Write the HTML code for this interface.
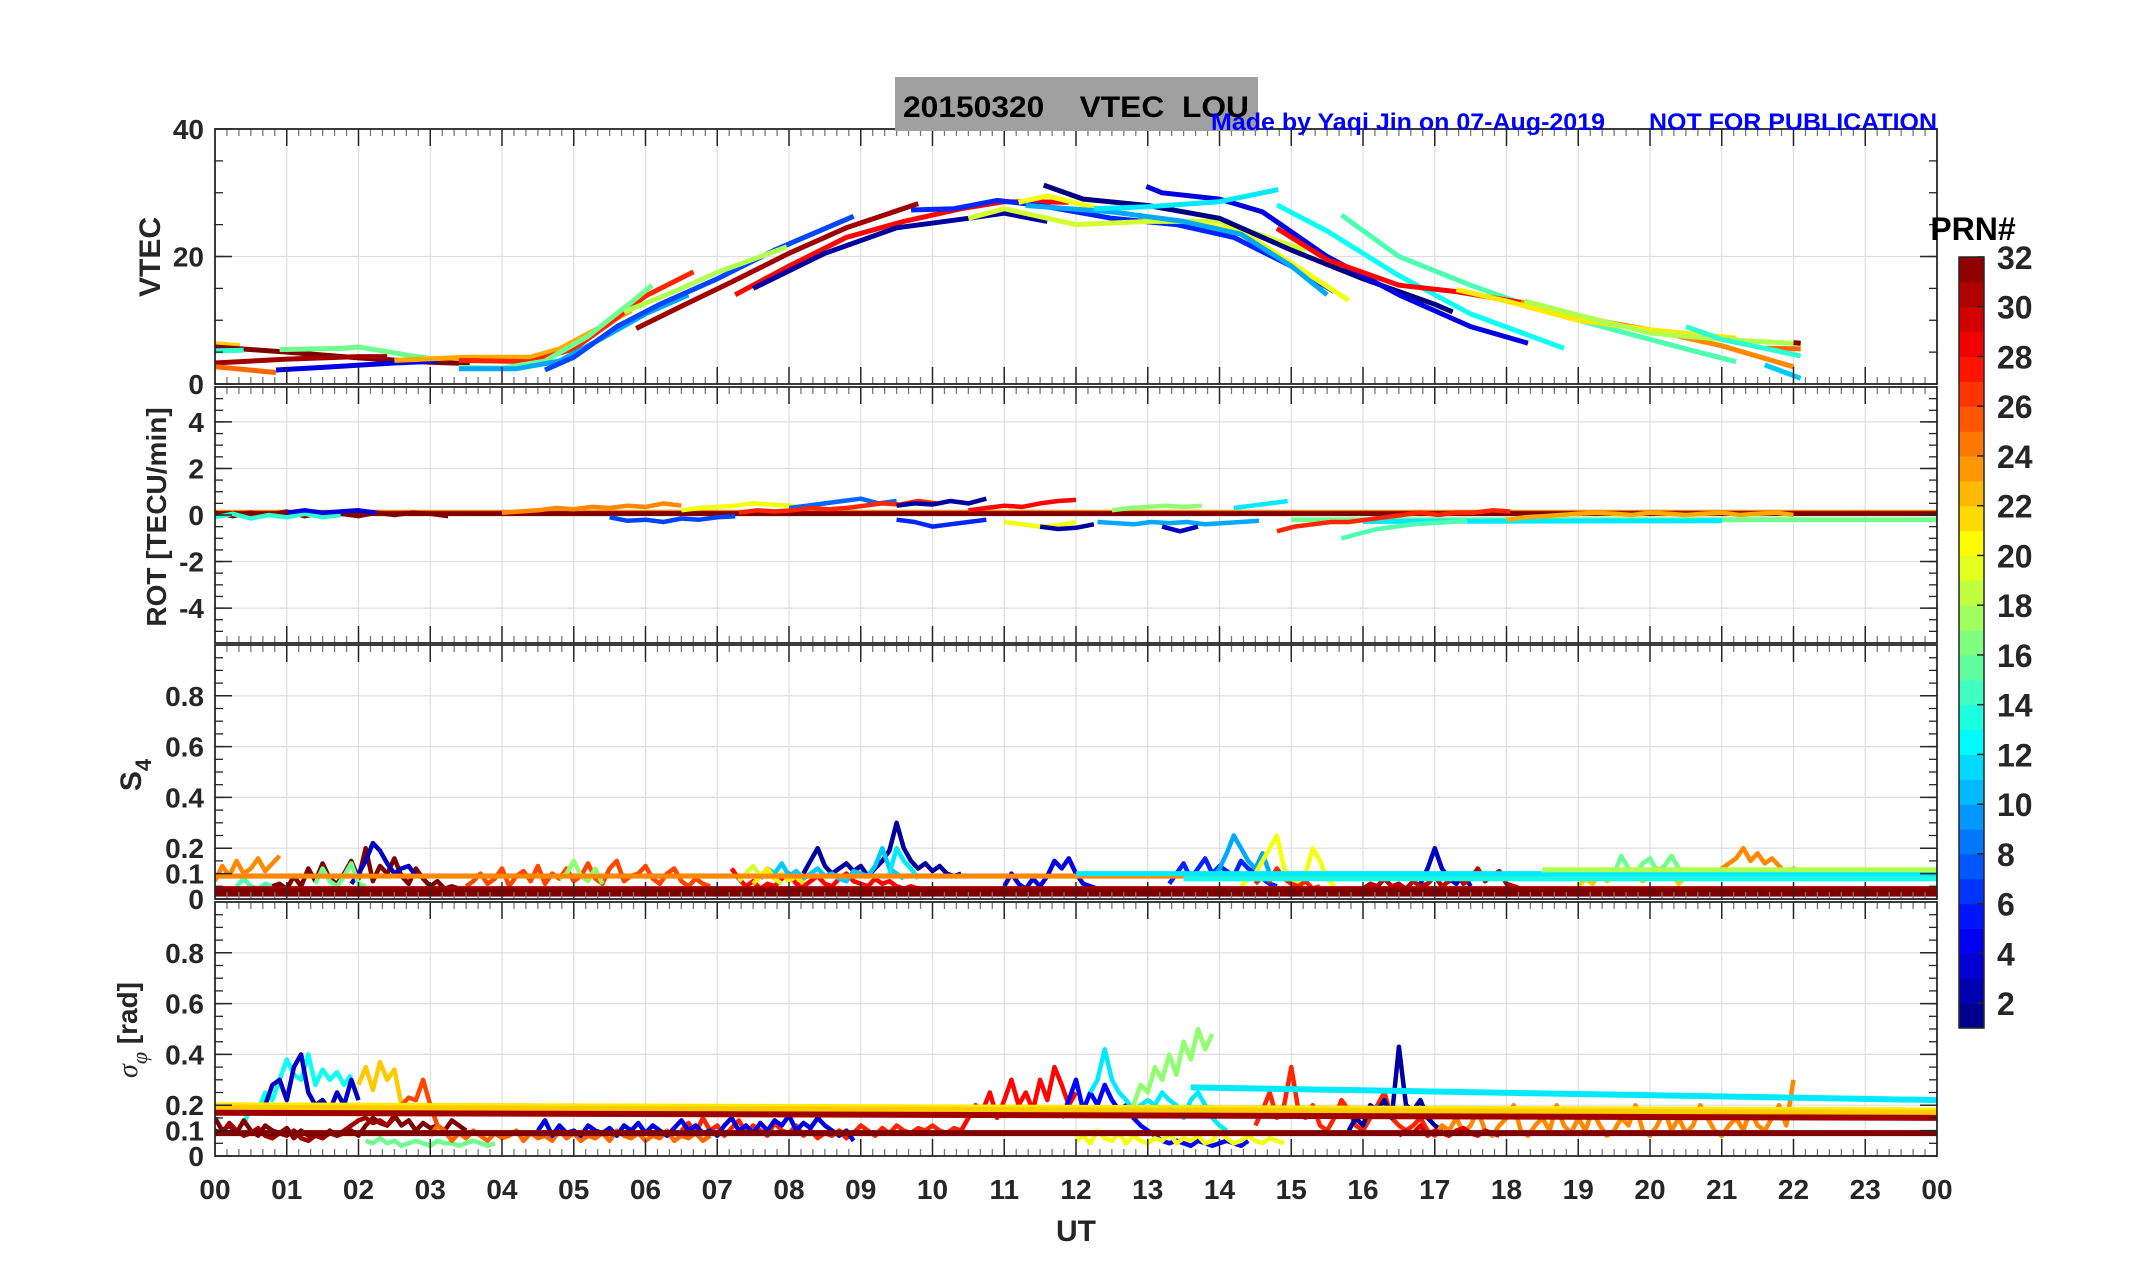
<!DOCTYPE html>
<html><head><meta charset="utf-8"><style>
html,body{margin:0;padding:0;background:#fff;}
svg{display:block;font-family:"Liberation Sans",Arial,sans-serif;}
</style></head><body>
<svg id="fig" width="2153" height="1286" viewBox="0 0 2153 1286">
<rect x="0" y="0" width="2153" height="1286" fill="#fff"/>
</svg>
<script>
// ===== data =====
const hourTicks = ["00","01","02","03","04","05","06","07","08","09","10","11","12","13","14","15","16","17","18","19","20","21","22","23","00"];
const cbTicks = [2,4,6,8,10,12,14,16,18,20,22,24,26,28,30,32];
const vtecTicks = [0,20,40];
const rotTicks = [-4,-2,0,2,4];
const scintTicks = [0,0.1,0.2,0.4,0.6,0.8];

// VTEC arcs
const arcPRN = [22,32,31,25,14,16,4,23,27,16,10,7,18,31,28,2,6,19,20,10,1,4,12,13,15,28,24,21,18,11,32,25,14];
const arcHours = [
 [0,0.35],[0,1,2,3,3.55],[0,1,2,2.4],[0,0.85],[0,0.4],[0.9,1.8,2.0,2.7,3.0],[0.85,1.5,2.5,3.1],
 [2.5,3.5,4.4,4.8,5.3,5.8],[3.4,4.4,5.0,5.5,6.0,6.67],[3.4,4.0,4.6,5.2,5.8,6.09],[3.4,4.2,4.8,5.4,6.0,6.6],
 [4.6,5.0,5.6,6.2,7.0,7.8,8.9],[5.7,6.4,7.0,7.97],[5.87,6.5,7.2,8.0,8.8,9.8],[7.25,8.0,8.8,9.6,10.4,11.0,11.9],
 [7.5,8.5,9.5,10.5,11.0,11.6],[9.7,10.3,10.9,11.5,12.5,13.4,14.2,15.0,15.6],[10.5,11.0,12,13,14,15.2],
 [11.2,11.6,12.5,13.5,14.3,15.0,15.8],[11.3,12.5,13.5,14.3,15.0,15.5],[11.55,12.1,13,14,15,16,17,17.25],
 [12.98,13.2,14,14.6,15.5,16.5,17.5,18.3],[12.25,13,14,14.82],[14.8,15.5,16.5,17.5,18.8],
 [15.7,16.5,17.5,18.5,19.5,20.5,21.2],[14.8,15.5,16.5,17.3,18.25],[18.2,19.0,20.0,21.0,22.0],
 [17.3,18.0,19,20,21.2],[18.25,19,20,21,22.1],[21.6,22.1],[22.0,22.1],[21.6,22.1],[20.5,21.0,22.1]
];
const arcTEC = [
 [6.3,6.0],[5.8,5.0,4.1,3.4,3.2],[3.3,3.9,4.3,4.3],[2.7,1.8],[5.2,5.3],[5.4,5.6,5.8,4.5,4.0],[2.2,2.6,3.3,3.6],
 [3.7,4.2,4.2,5.5,8.5,11.5],[3.7,3.5,5.5,9.5,13.8,17.6],[2.6,2.5,3.6,7.5,12.8,15.5],[2.4,2.4,3.6,7.2,11,14],
 [2.2,4.2,9,12.5,16.5,21,26.3],[11.3,14.5,17.5,21.5],[8.7,12.2,16,20.5,24.5,28.3],[14,18.5,23,25.5,27.5,28.6,28.5],
 [15,20.5,24.5,26,26.8,25.5],[27.3,27.5,28.8,28,26,25,23,18.5,14.5],[26,27.5,25,25.5,25.5,21],
 [28.5,29.5,27,25.5,24,19,13.1],[28,27,25.5,23.5,18.5,14],[31.2,29,28,26,21,16.5,12.5,11.3],
 [31,30,29,27,20,14,9,6.4],[27.5,27.8,28.6,30.5],[28.1,24,17,11,5.6],
 [26.5,20,15.5,11.5,8.5,5.5,3.5],[24.4,19.5,15.5,14.5,12.7],[12.9,10.5,8.5,6,2.7],
 [14.8,13,10,8.5,7.2],[13,10.8,8,7,6.3],[3,0.9],[6.5,6.4],[5.6,5.5],[9,7,4.4]
];

// ROT (step 0.25 h)
const rotPRN = [32,14,4,24,7,20,8,27,2,6,28,20,2,10,17,3,12,27,15,23];
const rotStart = [0,0,1,4,5.5,6.5,8,7.3,9.5,9.5,10.5,11,11.5,12.3,12.5,13.2,14.2,14.8,15.7,18];
const rotVals = [
 [0.1,-0.05,0.1,0.0,0.15,-0.05,0.1,0.05,-0.05,0.1,0.0,0.1,0.05,-0.05],
 [-0.1,0.05,-0.15,0.0,-0.1,0.05,-0.1,0.0],
 [0.1,0.2,0.1,0.15,0.2,0.1],
 [0.1,0.15,0.2,0.3,0.25,0.35,0.3,0.4,0.35,0.5,0.4],
 [-0.1,-0.25,-0.2,-0.3,-0.15,-0.2,-0.1,-0.05],
 [0.2,0.3,0.35,0.4,0.5,0.45,0.4,0.3],
 [0.3,0.4,0.5,0.6,0.7,0.5,0.6],
 [0.1,0.2,0.15,0.2,0.3,0.25,0.3,0.4,0.5,0.45,0.6,0.5],
 [0.4,0.5,0.45,0.6,0.5,0.7],
 [-0.2,-0.3,-0.5,-0.4,-0.3,-0.2],
 [0.2,0.3,0.4,0.35,0.5,0.6,0.65],
 [-0.3,-0.4,-0.5,-0.45,-0.3],
 [-0.5,-0.6,-0.55,-0.4],
 [-0.3,-0.35,-0.4,-0.3,-0.35,-0.3,-0.4,-0.35,-0.3,-0.25],
 [0.2,0.3,0.35,0.4,0.35,0.4],
 [-0.5,-0.7,-0.5],
 [0.3,0.4,0.5,0.6],
 [-0.7,-0.5,-0.4,-0.3,-0.3,-0.2,-0.1,0.0,0.1,0.0,0.1,0.1,0.2,0.15],
 [-1.0,-0.8,-0.6,-0.5,-0.4,-0.35,-0.3,-0.25],
 [-0.2,-0.1,-0.05,0.0,0.05,0.1,0.05,0.0,0.1,0.05,0.0,0.05,0.1,0.0,0.05,0.1,0.0]
];
const rotLinePRN = [16,12,24,32];
const rotLineH0 = [15,16,0,0];
const rotLineH1 = [24,21,24,24];
const rotLineV0 = [-0.2,-0.28,0.12,0.06];
const rotLineV1 = [-0.2,-0.25,0.12,0.06];

// S4 (step 0.1 h)
const s4PRN = [24,15,32,3,16,26,17,28,2,11,19,21,4,6,10,20,27,3,30,16,22,24,12];
const s4Start = [0,0.3,0.8,1.9,1.4,3.5,4.8,7.2,8.2,7.6,7.3,7.5,11.0,13.3,13.9,14.3,14.5,16.8,16.0,19.5,19.0,20.8,9.4];
const s4Vals = [
 [0.07,0.13,0.09,0.15,0.1,0.12,0.16,0.11,0.14,0.17],
 [0.05,0.08,0.05,0.04,0.06,0.05],
 [0.05,0.06,0.04,0.09,0.05,0.12,0.07,0.14,0.08,0.06,0.1,0.15,0.08,0.2,0.07,0.13,0.1,0.16,0.09,0.06,0.12,0.08,0.05,0.07,0.04,0.05,0.04],
 [0.06,0.1,0.15,0.22,0.19,0.14,0.1,0.12,0.13,0.09],
 [0.06,0.12,0.07,0.05,0.09,0.14,0.06,0.05],
 [0.05,0.07,0.1,0.06,0.08,0.12,0.05,0.09,0.11,0.07,0.13,0.06,0.1,0.08,0.12,0.07,0.09,0.14,0.08,0.06,0.12,0.15,0.07,0.09,0.1,0.13,0.08,0.06,0.1,0.12,0.07,0.05,0.08,0.06,0.05],
 [0.08,0.1,0.15,0.09,0.07,0.12,0.06],
 [0.12,0.08,0.05,0.07,0.04,0.06,0.05,0.08,0.1,0.06,0.05,0.07,0.09,0.06,0.05,0.08,0.1,0.07,0.06,0.05,0.08,0.06,0.07,0.05,0.04,0.05,0.04,0.03,0.04,0.03],
 [0.1,0.15,0.2,0.13,0.1,0.12,0.14,0.11,0.13,0.09,0.12,0.15,0.19,0.3,0.2,0.15,0.12,0.14,0.11,0.13,0.1,0.09,0.1],
 [0.08,0.12,0.1,0.14,0.09,0.11,0.08,0.1,0.12,0.09,0.1,0.08,0.07,0.11,0.1,0.09,0.13,0.2,0.12,0.1,0.08],
 [0.07,0.1,0.13,0.09,0.1,0.08,0.06],
 [0.06,0.09,0.12,0.08,0.1,0.07,0.09,0.06],
 [0.05,0.1,0.06,0.04,0.08,0.05,0.09,0.15,0.12,0.16,0.1,0.06,0.05,0.04],
 [0.06,0.1,0.14,0.08,0.12,0.16,0.1,0.13,0.11,0.09,0.15,0.12,0.1,0.08,0.06,0.05],
 [0.08,0.12,0.18,0.25,0.2,0.15,0.12,0.18,0.1,0.08],
 [0.05,0.08,0.1,0.15,0.2,0.25,0.12,0.08,0.06,0.1,0.2,0.15,0.08,0.05],
 [0.06,0.09,0.07,0.12,0.08,0.06,0.05,0.07,0.04,0.05],
 [0.06,0.12,0.2,0.12,0.08,0.06,0.1,0.05],
 [0.04,0.06,0.05,0.08,0.05,0.06,0.04,0.07,0.05,0.06,0.09,0.05,0.07,0.1,0.06,0.08,0.12,0.07,0.09,0.11,0.06,0.05,0.04],
 [0.1,0.17,0.12,0.1,0.14,0.16,0.11,0.13,0.17,0.12,0.1],
 [0.05,0.08,0.06,0.1,0.07,0.09,0.11,0.08,0.1,0.07,0.09,0.12,0.08,0.1,0.06,0.09],
 [0.08,0.1,0.12,0.14,0.16,0.2,0.15,0.18,0.14,0.16,0.13,0.1,0.12,0.1],
 [0.1,0.2,0.15,0.12,0.08]
];
const s4LinePRN = [24,13,12,18,31,32];
const s4LineH0 = [0,13.5,12,18.5,0,0];
const s4LineH1 = [24,24,24,24,24,24];
const s4LineV0 = [0.09,0.08,0.1,0.115,0.035,0.025];
const s4LineV1 = [0.09,0.08,0.1,0.115,0.035,0.025];

// sigma-phi (step 0.1 h)
const sigPRN = [13,3,22,26,32,31,16,25,27,4,28,5,12,17,20,27,2,24,29];
const sigStart = [0.4,0.7,2.0,2.6,0,0,2.1,3.0,6.5,4.5,10.4,11.8,12.2,12.8,12.0,14.5,15.8,17.0,16.5];
const sigVals = [
 [0.12,0.2,0.18,0.25,0.22,0.3,0.38,0.32,0.3,0.4,0.28,0.34,0.3,0.33,0.28,0.32],
 [0.2,0.28,0.3,0.22,0.35,0.4,0.25,0.2,0.22,0.18,0.25,0.2,0.3,0.22],
 [0.28,0.35,0.26,0.37,0.3,0.34,0.2],
 [0.2,0.23,0.22,0.3,0.2,0.12],
 [0.15,0.1,0.12,0.09,0.14,0.1,0.08,0.12,0.1,0.09,0.11,0.07,0.1,0.08,0.09,0.07,0.1,0.08,0.09,0.1,0.08,0.12,0.15,0.13,0.12,0.16,0.12,0.14,0.1,0.13,0.11,0.12,0.1,0.14,0.12,0.1],
 [0.1,0.09,0.13,0.1,0.08,0.09,0.11,0.08,0.07,0.09,0.08,0.1,0.07,0.06,0.08,0.07,0.09,0.08,0.1,0.12,0.14,0.15,0.13,0.14,0.12,0.15],
 [0.06,0.05,0.07,0.05,0.06,0.04,0.05,0.06,0.05,0.04,0.06,0.05,0.05,0.04,0.05,0.06,0.05,0.04,0.05],
 [0.08,0.12,0.1,0.06,0.09,0.07,0.1,0.08,0.06,0.09,0.07,0.08,0.1,0.06,0.09,0.07,0.08,0.06,0.1,0.07,0.09,0.06,0.08,0.07,0.09,0.06,0.1,0.08,0.07,0.09,0.06,0.08,0.07,0.1,0.06,0.08,0.07,0.09,0.06,0.08],
 [0.1,0.13,0.09,0.15,0.1,0.12,0.08,0.11,0.14,0.09,0.12,0.1,0.08,0.13,0.1,0.09,0.12,0.08,0.1,0.07,0.09,0.08,0.1,0.07,0.09,0.12,0.1,0.08,0.11,0.09,0.12,0.1,0.09,0.11,0.1,0.12,0.1,0.09,0.11,0.1],
 [0.1,0.14,0.08,0.12,0.09,0.1,0.08,0.12,0.1,0.09,0.11,0.08,0.12,0.1,0.13,0.09,0.12,0.1,0.08,0.11,0.14,0.1,0.12,0.09,0.1,0.08,0.12,0.15,0.1,0.12,0.09,0.13,0.1,0.14,0.12,0.16,0.1,0.13,0.11,0.15,0.12,0.1,0.08,0.1,0.06],
 [0.1,0.15,0.2,0.18,0.25,0.15,0.22,0.3,0.2,0.25,0.18,0.3,0.22,0.35,0.28,0.2,0.25],
 [0.15,0.22,0.3,0.18,0.25,0.2,0.28,0.22,0.18,0.2,0.15,0.12,0.1,0.08,0.06,0.05,0.06,0.05,0.04,0.06,0.05,0.04,0.05,0.06,0.05,0.04,0.06],
 [0.25,0.3,0.42,0.3,0.25,0.22,0.18,0.2,0.22,0.2,0.25,0.22,0.2,0.15,0.22,0.25,0.2,0.15,0.12,0.1],
 [0.2,0.28,0.25,0.35,0.3,0.4,0.32,0.45,0.38,0.5,0.42,0.48],
 [0.06,0.08,0.05,0.1,0.07,0.06,0.09,0.05,0.08,0.06,0.05,0.07,0.06,0.09,0.05,0.07,0.06,0.08,0.05,0.06,0.1,0.07,0.05,0.06,0.08,0.06,0.05,0.07,0.06,0.05],
 [0.12,0.18,0.25,0.15,0.2,0.35,0.18,0.15,0.2,0.12,0.1,0.15,0.22,0.18,0.12,0.1,0.15,0.2,0.25,0.15,0.12,0.1,0.12,0.15,0.1,0.08,0.12,0.1],
 [0.1,0.15,0.12,0.2,0.18,0.22,0.15,0.43,0.2,0.18,0.22,0.15,0.12,0.1],
 [0.08,0.12,0.1,0.15,0.09,0.12,0.18,0.1,0.08,0.12,0.15,0.2,0.1,0.08,0.12,0.15,0.1,0.2,0.12,0.09,0.15,0.1,0.18,0.12,0.08,0.1,0.15,0.12,0.2,0.1,0.08,0.12,0.18,0.1,0.15,0.09,0.12,0.2,0.15,0.1,0.08,0.12,0.15,0.1,0.18,0.12,0.1,0.15,0.2,0.12,0.3],
 [0.08,0.1,0.09,0.12,0.08,0.1,0.09,0.08,0.1,0.11,0.09,0.08,0.1,0.09,0.08]
];
const sigLinePRN = [21,22,31,32,12];
const sigLineH0 = [0,0,0,0,13.6];
const sigLineH1 = [24,24,24,24,24];
const sigLineV0 = [0.2,0.19,0.17,0.09,0.27];
const sigLineV1 = [0.18,0.17,0.15,0.09,0.22];

// ===== layout / drawing =====
const NS = "http://www.w3.org/2000/svg";
const svg = document.getElementById("fig");
const L = 215, R = 1937;
function X(h){ return L + h*(R-L)/24; }
const panels = {
 vtec:{top:129,bot:384,min:0,max:40,major:vtecTicks,minorStep:5,fmt:v=>String(v)},
 rot:{top:387,bot:643,min:-5.5,max:5.5,major:rotTicks,minorStep:0.5,fmt:v=>String(v)},
 s4:{top:645,bot:899,min:0,max:1,major:scintTicks,minorStep:0.05,fmt:v=>v===0?"0":String(v)},
 sig:{top:902,bot:1156,min:0,max:1,major:scintTicks,minorStep:0.05,fmt:v=>v===0?"0":String(v)}
};
function Y(p,v){ return p.bot - (v-p.min)*(p.bot-p.top)/(p.max-p.min); }
function jet(t){
 const c=x=>Math.round(255*Math.max(0,Math.min(1,x)));
 return `rgb(${c(1.5-Math.abs(4*t-3))},${c(1.5-Math.abs(4*t-2))},${c(1.5-Math.abs(4*t-1))})`;
}
function prnColor(p){ return jet((p-1)/31); }
function mk(tag,attrs,parent){
 const e=document.createElementNS(NS,tag);
 for(const k in attrs) e.setAttribute(k,attrs[k]);
 (parent||svg).appendChild(e); return e;
}
function txt(x,y,s,size,extra,parent){
 const t=mk("text",Object.assign({x:x,y:y,"font-size":size,"font-weight":"bold",fill:"#262626"},extra||{}),parent);
 t.textContent=s; return t;
}

Object.keys(panels).forEach(name=>{
 const p=panels[name];
 const g=mk("g",{});
 
 
 const cp=mk("clipPath",{id:"clip-"+name},g);
 mk("rect",{x:L,y:p.top,width:R-L,height:p.bot-p.top},cp);
 for(let h=1;h<24;h++){
  const gl=mk("line",{x1:X(h),x2:X(h),y1:p.top,y2:p.bot,stroke:"#dedede","stroke-width":1.2},g);
  
  
 }
 p.major.forEach(v=>{
  if(v===p.min||v===p.max) return;
  const gl=mk("line",{x1:L,x2:R,y1:Y(p,v),y2:Y(p,v),stroke:"#dedede","stroke-width":1.2},g);
  
  
 });
 p.g=mk("g",{"clip-path":"url(#clip-"+name+")"},g);
 
 
 p.frame=g;
});

function series(pname,prn,hs,vs,w,label){
 const p=panels[pname];
 const pts=hs.map((h,i)=>X(h).toFixed(1)+","+Y(p,vs[i]).toFixed(1)).join(" ");
 const e=mk("polyline",{points:pts,fill:"none",stroke:prnColor(prn),"stroke-width":w,"stroke-linejoin":"round","stroke-linecap":"butt"},p.g);
 
 
}
function hseq(start,n){ const a=[]; for(let i=0;i<n;i++) a.push(start+i*DT); return a; }
let DT=0.1;

arcPRN.forEach((prn,i)=>series("vtec",prn,arcHours[i],arcTEC[i],5,"vtec-arc-prn"+prn));
rotLinePRN.forEach((prn,i)=>series("rot",prn,[rotLineH0[i],rotLineH1[i]],[rotLineV0[i],rotLineV1[i]],5,"rot-line-prn"+prn));
DT=0.25;
rotPRN.forEach((prn,i)=>series("rot",prn,hseq(rotStart[i],rotVals[i].length),rotVals[i],4.5,"rot-trace-prn"+prn));
DT=0.1;
s4PRN.forEach((prn,i)=>series("s4",prn,hseq(s4Start[i],s4Vals[i].length),s4Vals[i],4.5,"s4-trace-prn"+prn));
s4LinePRN.forEach((prn,i)=>series("s4",prn,[s4LineH0[i],s4LineH1[i]],[s4LineV0[i],s4LineV1[i]],prn>=31?8:5,"s4-line-prn"+prn));
sigPRN.forEach((prn,i)=>series("sig",prn,hseq(sigStart[i],sigVals[i].length),sigVals[i],4.5,"sigma-trace-prn"+prn));
sigLinePRN.forEach((prn,i)=>series("sig",prn,[sigLineH0[i],sigLineH1[i]],[sigLineV0[i],sigLineV1[i]],6,"sigma-line-prn"+prn));

Object.keys(panels).forEach(name=>{
 const p=panels[name], g=p.frame;
 const ax=mk("g",{},g);
 
 
 for(let m=1;m<144;m++){
  if(m%6===0) continue;
  const x=X(m/6);
  mk("line",{x1:x,x2:x,y1:p.top,y2:p.top+7,stroke:"#777","stroke-width":1.3},ax);
  mk("line",{x1:x,x2:x,y1:p.bot,y2:p.bot-7,stroke:"#777","stroke-width":1.3},ax);
 }
 for(let h=1;h<24;h++){
  mk("line",{x1:X(h),x2:X(h),y1:p.top,y2:p.top+17,stroke:"#262626","stroke-width":1.5},ax);
  mk("line",{x1:X(h),x2:X(h),y1:p.bot,y2:p.bot-17,stroke:"#262626","stroke-width":1.5},ax);
 }
 const nMin=Math.round((p.max-p.min)/p.minorStep);
 for(let k=1;k<nMin;k++){
  const v=p.min+k*p.minorStep, y=Y(p,v);
  mk("line",{x1:L,x2:L+8,y1:y,y2:y,stroke:"#262626","stroke-width":1.3},ax);
  mk("line",{x1:R,x2:R-8,y1:y,y2:y,stroke:"#262626","stroke-width":1.3},ax);
 }
 p.major.forEach(v=>{
  const y=Y(p,v);
  mk("line",{x1:L,x2:L+17,y1:y,y2:y,stroke:"#262626","stroke-width":1.5},ax);
  mk("line",{x1:R,x2:R-17,y1:y,y2:y,stroke:"#262626","stroke-width":1.5},ax);
  const t=txt(204,y+10,p.fmt(v),28,{"text-anchor":"end"},ax);
  
  
 });
 const box=mk("rect",{x:L,y:p.top,width:R-L,height:p.bot-p.top,fill:"none",stroke:"#262626","stroke-width":1.8},ax);
 
 
});

hourTicks.forEach((s,i)=>{
 const t=txt(X(i),1199,s,28,{"text-anchor":"middle"});
 
 
});

const cb=mk("g",{});


const cbTop=257, cbBot=1028, cbX=1959, cbW=25;
const nBands=31;
for(let k=0;k<nBands;k++){
 const y0=cbBot-(k+1)*(cbBot-cbTop)/nBands;
 const b=mk("rect",{x:cbX,y:y0,width:cbW,height:(cbBot-cbTop)/nBands+0.6,fill:jet((k+0.5)/nBands)},cb);
 
 
}
mk("rect",{x:cbX,y:cbTop,width:cbW,height:cbBot-cbTop,fill:"none",stroke:"#262626","stroke-width":1.5},cb);
function cbY(v){ return cbBot-(v-1)*(cbBot-cbTop)/31; }
cbTicks.forEach(v=>{
 const y=cbY(v);
 mk("line",{x1:cbX+cbW-7,x2:cbX+cbW,y1:y,y2:y,stroke:"#262626","stroke-width":1.5},cb);
 const t=txt(1997,y+12,String(v),32,{},cb);
 
 
});
</script>
<svg style="position:absolute;left:0;top:0" width="2153" height="1286" viewBox="0 0 2153 1286" font-family="Liberation Sans, Arial, sans-serif">
 <text x="1973" y="240" font-size="32" font-weight="bold" fill="#000" text-anchor="middle">PRN#</text>
 <rect x="895" y="77" width="363" height="54" fill="#a0a0a0"/>
 <text x="903" y="117" font-size="30" font-weight="bold" fill="#000" textLength="346" lengthAdjust="spacingAndGlyphs" xml:space="preserve">20150320    VTEC  LOU</text>
 <text x="1211" y="130" font-size="24" font-weight="bold" fill="#0000ff" textLength="394" lengthAdjust="spacingAndGlyphs">Made by Yaqi Jin on 07-Aug-2019</text>
 <text x="1649" y="130" font-size="24" font-weight="bold" fill="#0000ff" textLength="288" lengthAdjust="spacingAndGlyphs">NOT FOR PUBLICATION</text>
 <text x="1076" y="1241" font-size="30" font-weight="bold" fill="#262626" text-anchor="middle">UT</text>
 <text transform="translate(160,257) rotate(-90)" font-size="30" font-weight="bold" fill="#262626" text-anchor="middle">VTEC</text>
 <text transform="translate(166,517) rotate(-90)" font-size="28" font-weight="bold" fill="#262626" text-anchor="middle">ROT [TECU/min]</text>
 <text transform="translate(141,775) rotate(-90)" font-size="30" font-weight="bold" fill="#262626" text-anchor="middle">S<tspan font-size="22" dy="10">4</tspan></text>
 <text transform="translate(137,1030) rotate(-90)" font-size="28" font-weight="bold" fill="#262626" text-anchor="middle"><tspan font-family="Liberation Serif, serif" font-style="italic" font-weight="normal">σ</tspan><tspan font-family="Liberation Serif, serif" font-style="italic" font-weight="normal" font-size="22" dy="10">φ</tspan><tspan dy="-10"> [rad]</tspan></text>
</svg>
</body></html>
